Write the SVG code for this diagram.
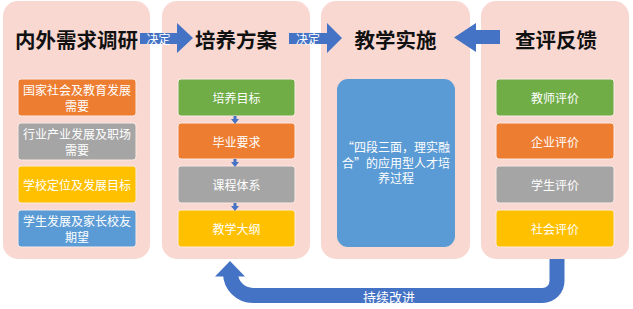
<svg xmlns="http://www.w3.org/2000/svg" width="633" height="309" viewBox="0 0 633 309">
<style>
.panel{fill:#F8D8D1}
.title{font-family:"Noto Sans CJK SC","Noto Sans",sans-serif;font-size:20.5px;font-weight:bold;fill:#111;text-anchor:middle;dominant-baseline:central}
.lbl{font-family:"Noto Sans CJK SC","Noto Sans",sans-serif;font-size:12px;fill:#fff;text-anchor:middle;dominant-baseline:central}
.mid{font-family:"Noto Sans CJK SC","Noto Sans",sans-serif;font-size:12px;fill:#fff;text-anchor:middle;dominant-baseline:central}
.box{stroke:#fbe9e4;stroke-width:1}
.orange{fill:#ED7D31}.gray{fill:#A5A5A5}.yellow{fill:#FFC000}.blue{fill:#5B9BD5}.green{fill:#70AD47}
.arr{fill:#4472C4}
</style>
<g id="panel-needs">
<rect class="panel" x="3" y="1" width="147" height="258" rx="15"/>
<text class="title" x="76.5" y="39">内外需求调研</text>
<rect class="box orange" x="18" y="79" width="118" height="37" rx="3"/>
<text class="lbl" x="77" y="89.5">国家社会及教育发展</text>
<text class="lbl" x="77" y="105">需要</text>
<rect class="box gray" x="18" y="123" width="118" height="37" rx="3"/>
<text class="lbl" x="77" y="133.5">行业产业发展及职场</text>
<text class="lbl" x="77" y="149">需要</text>
<rect class="box yellow" x="18" y="166" width="118" height="37" rx="3"/>
<text class="lbl" x="77" y="184.5">学校定位及发展目标</text>
<rect class="box blue" x="18" y="210" width="118" height="37" rx="3"/>
<text class="lbl" x="77" y="220.5">学生发展及家长校友</text>
<text class="lbl" x="77" y="236">期望</text>
</g>
<g id="panel-plan">
<rect class="panel" x="162" y="1" width="148" height="258" rx="15"/>
<text class="title" x="236" y="39">培养方案</text>
<rect class="box green" x="178" y="79" width="117" height="37" rx="3"/>
<text class="lbl" x="236.5" y="97.5">培养目标</text>
<rect class="box orange" x="178" y="123" width="117" height="36" rx="3"/>
<text class="lbl" x="236.5" y="141">毕业要求</text>
<rect class="box gray" x="178" y="166" width="117" height="37" rx="3"/>
<text class="lbl" x="236.5" y="184.5">课程体系</text>
<rect class="box yellow" x="178" y="210" width="117" height="37" rx="3"/>
<text class="lbl" x="236.5" y="228.5">教学大纲</text>
</g>
<g id="panel-teaching">
<rect class="panel" x="321" y="1" width="149" height="258" rx="15"/>
<text class="title" x="395.5" y="39">教学实施</text>
<rect class="blue" x="337" y="79" width="118" height="168" rx="11"/>
<text class="mid" x="396" y="146.5">“四段三面，理实融</text>
<text class="mid" x="396" y="162">合”的应用型人才培</text>
<text class="mid" x="396" y="177.5">养过程</text>
</g>
<g id="panel-feedback">
<rect class="panel" x="481" y="1" width="148" height="258" rx="15"/>
<text class="title" x="556" y="39">查评反馈</text>
<rect class="box green" x="496" y="79" width="118" height="37" rx="3"/>
<text class="lbl" x="555" y="97.5">教师评价</text>
<rect class="box orange" x="496" y="123" width="118" height="36" rx="3"/>
<text class="lbl" x="555" y="141">企业评价</text>
<rect class="box gray" x="496" y="166" width="118" height="37" rx="3"/>
<text class="lbl" x="555" y="184.5">学生评价</text>
<rect class="box yellow" x="496" y="210" width="118" height="37" rx="3"/>
<text class="lbl" x="555" y="228.5">社会评价</text>
</g>
<g id="connectors">
<polygon class="arr" points="140,33 177,33 177,23 193,38 177,53 177,44 140,44"/>
<text class="lbl" x="158.5" y="38.5">决定</text>
<polygon class="arr" points="289,33 327,33 327,23 342,38 327,53 327,44 289,44"/>
<text class="lbl" x="308" y="38.5">决定</text>
<polygon class="arr" points="500,30 476,30 476,23 454,37.5 476,52 476,44 500,44"/>
<polygon class="arr" points="233.5,116 236.5,116 236.5,119 239,119 235,124 231,119 233.5,119"/>
<polygon class="arr" points="233.5,159 236.5,159 236.5,162 239,162 235,167 231,162 233.5,162"/>
<polygon class="arr" points="233.5,203 236.5,203 236.5,206 239,206 235,211 231,206 233.5,206"/>
<path d="M557,259 V281 A14.5,14.5 0 0 1 542.5,295.5 H253 A22.5,22.5 0 0 1 230.5,273 V275" fill="none" stroke="#4472C4" stroke-width="15"/>
<polygon class="arr" points="215,276.5 245,276.5 230,261"/>
<text class="lbl" x="389" y="296.5" style="font-size:13px">持续改进</text>
</g>
</svg>
